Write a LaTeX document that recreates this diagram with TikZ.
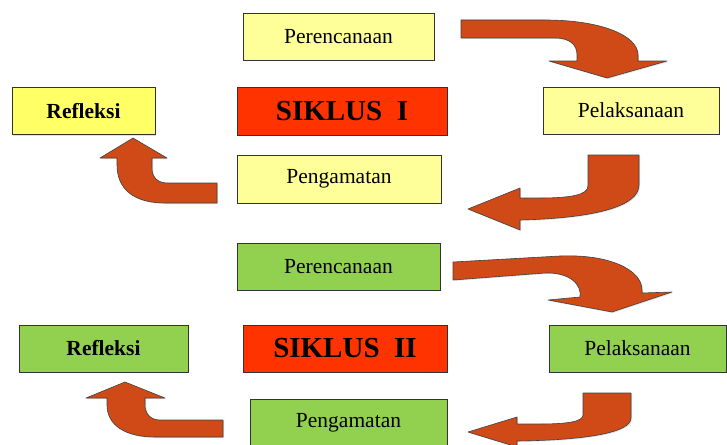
\documentclass[tikz,border=0pt]{standalone}
\usepackage{fontspec}
\setmainfont{Liberation Serif}
\usetikzlibrary{shadows}
\definecolor{paleyellow}{HTML}{FFFF99}
\definecolor{brightyellow}{HTML}{FFFF66}
\definecolor{cyclered}{HTML}{FF3300}
\definecolor{leafgreen}{HTML}{92D050}
\definecolor{arrowred}{HTML}{D04A17}
\begin{document}
\begin{tikzpicture}[x=1pt, y=-1pt]
				\tikzstyle{box}=[draw=black!80, line width=0.8pt, rectangle, inner sep=0pt, minimum height=47pt, font=\fontsize{21.5}{24}\selectfont, drop shadow={opacity=0.25, shadow xshift=1pt, shadow yshift=-1pt}]
				\tikzstyle{cycle}=[box, fill=cyclered, font=\fontsize{29}{32}\selectfont\bfseries]
				\tikzstyle{bent}=[fill=arrowred, draw=black!75, line width=0.6pt, line join=round, drop shadow={opacity=0.25, shadow xshift=1pt, shadow yshift=-1pt}]
				\useasboundingbox (0,0) rectangle (727,444);
				
				% siklus I
				\node[box, fill=paleyellow, minimum width=191pt] (Plan-1) at (338.5,36.5) {Perencanaan};
				\node[box, fill=brightyellow, minimum width=143pt, font=\fontsize{21.5}{24}\selectfont\bfseries] (Refl-1) at (83.5,111) {Refleksi};
				\node[cycle, minimum width=210pt, minimum height=48pt] (Cycle-1) at (342,111) {SIKLUS~~I};
				\node[box, fill=paleyellow, minimum width=176pt] (Act-1) at (631,110.5) {Pelaksanaan};
				\node[box, fill=paleyellow, minimum width=204pt, minimum height=48pt] (Obs-1) at (339,179) {Pengamatan};
				
				\draw[bent] (461,20) -- (545,20) .. controls (600,20) and (638,35) .. (638,55) -- (638,61) -- (667,61) -- (607,78) -- (549,61) -- (577,61) -- (577,55) .. controls (577,45) and (570,38) .. (555,38) -- (461,38) -- cycle;
				\draw[bent] (588,155) -- (588,186) .. controls (588,195) and (570,198) .. (540,198) -- (520,198) -- (520,188) -- (468,209) -- (520,230) -- (520,220) .. controls (600,218) and (639,205) .. (639,185) -- (639,155) -- cycle;
				\draw[bent] (217,183) -- (168,183) .. controls (157,183) and (152,177) .. (152,168) -- (152,158) -- (167,158) -- (133,138) -- (100,158) -- (117,158) -- (117,165) .. controls (117,190) and (135,203) .. (165,203) -- (217,203) -- cycle;
				
				% siklus II
				\node[box, fill=leafgreen, minimum width=203pt] (Plan-2) at (338.5,266.5) {Perencanaan};
				\node[box, fill=leafgreen, minimum width=169pt, font=\fontsize{21.5}{24}\selectfont\bfseries] (Refl-2) at (103.5,348.5) {Refleksi};
				\node[cycle, minimum width=204pt] (Cycle-2) at (345,348.5) {SIKLUS~~II};
				\node[box, fill=leafgreen, minimum width=177pt] (Act-2) at (637.5,348.5) {Pelaksanaan};
				\node[box, fill=leafgreen, minimum width=197pt] (Obs-2) at (348.5,422.5) {Pengamatan};
				
				\draw[bent] (453,262) -- (560,256) .. controls (610,254) and (642,270) .. (642,290) -- (642,293) -- (672,292) -- (612,312) -- (548,300) -- (580,297) .. controls (582,285) and (570,272) .. (545,273) -- (453,280) -- cycle;
				\draw[bent] (583,393) -- (583,415) .. controls (583,421) and (570,424) .. (540,424) -- (517,424) -- (517,417) -- (468,432) -- (517,447) -- (517,441) .. controls (590,440) and (631,432) .. (631,418) -- (631,393) -- cycle;
				\draw[bent] (223,420) -- (160,420) .. controls (150,420) and (145,413) .. (145,405) -- (145,398) -- (165,398) -- (125,382) -- (86,398) -- (107,398) -- (107,405) .. controls (107,425) and (125,437) .. (155,437) -- (223,437) -- cycle;
\end{tikzpicture}
\end{document}
